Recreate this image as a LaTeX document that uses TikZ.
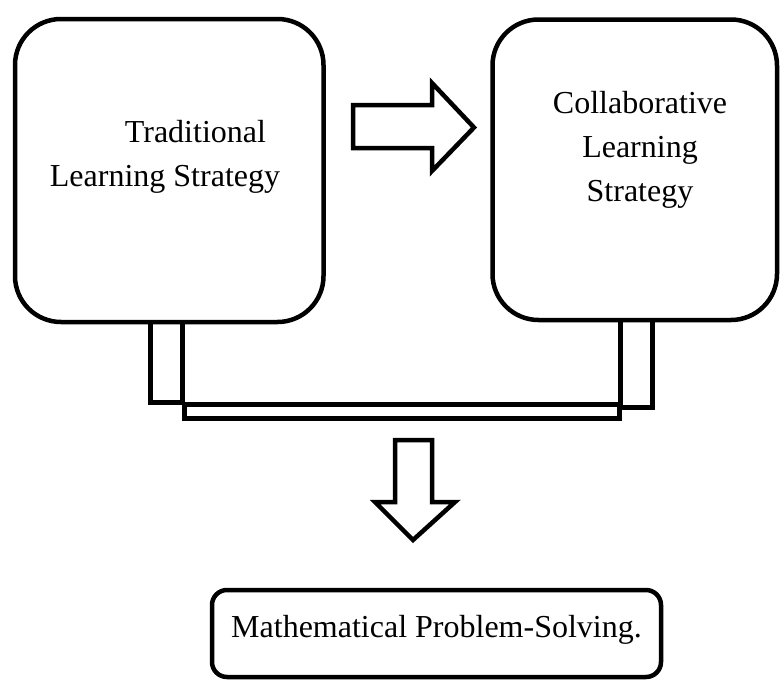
\documentclass[tikz,border=0pt]{standalone}
\usepackage{fontspec}
\setmainfont{Liberation Serif}
\begin{document}
\begin{tikzpicture}[x=1pt,y=-1pt,
  outline/.style={draw=black,line width=4.5pt},
  bigbox/.style={outline,rectangle,rounded corners=46pt,inner sep=0pt},
  label/.style={font=\fontsize{32}{44}\selectfont,inner sep=0pt},
  fat/.style={outline,line join=miter}]
\useasboundingbox (0,0) rectangle (780,680);
% two strategy boxes
\node[bigbox,minimum width=308.5pt,minimum height=303pt] (trad) at (169.25,170.5) {};
\node[bigbox,minimum width=284.5pt,minimum height=300.5pt] (coll) at (634.75,169.75) {};
\node[label,align=left] (tradtxt) at (165,157) {\hspace*{75pt}Traditional\\Learning Strategy};
\node[label,align=center] (colltxt) at (640,150) {Collaborative\\Learning\\Strategy};
% outcome box
\node[outline,rectangle,rounded corners=15pt,minimum width=449pt,minimum height=87pt] (math) at (436.5,633.5) {};
\node[label,anchor=base west] (mathtxt) at (231,637) {Mathematical Problem-Solving.};
% block arrow between the strategies
\draw[fat] (353,105) -- (432,105) -- (432,83) -- (474,127.5) -- (432,171) -- (432,148) -- (353,148) -- cycle;
% legs and joining bar under the boxes
\draw[fat] (150.5,322) -- (150.5,402.5) -- (182.5,402.5) -- (182.5,322);
\draw[fat] (184.5,404.5) rectangle (619.5,418.5);
\draw[fat] (620.5,320) -- (620.5,407.5) -- (652.5,407.5) -- (652.5,320);
% block arrow down to the outcome
\draw[fat] (395,440) -- (432,440) -- (432,502) -- (455,502) -- (413,540) -- (375,502) -- (395,502) -- cycle;
\end{tikzpicture}
\end{document}
